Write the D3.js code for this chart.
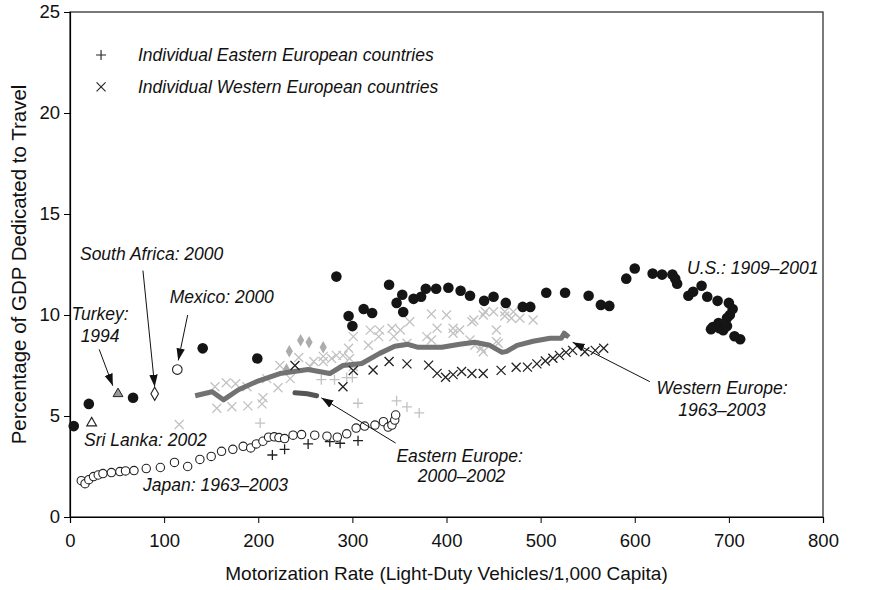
<!DOCTYPE html>
<html>
<head>
<meta charset="utf-8">
<script src="https://cdn.jsdelivr.net/npm/d3@7"></script>
<style>
  body { margin: 0; background: #fff; }
  text { font-family: "Liberation Sans", Arial, sans-serif; fill: #111; }
  .note { font-style: italic; font-size: 17.5px; }
  .tick text { font-size: 18.5px; fill: #111; }
  .label { font-size: 19px; }
  .label.ytitle { font-size: 20.5px; }
</style>
</head>
<body>
<div class="chart"></div>
<script>
// U.S. 1909-2001 (filled dots)
var usData = [[4,4.5],[20,5.6],[67,5.9],[141,8.35],[199,7.85],[283,11.9],[296,9.95],[300,9.45],
  [312,10.3],[321,10.1],[339,11.5],[347,10.6],[353,11.0],[354,10.15],[365,10.8],[373,10.9],
  [378,11.3],[389,11.3],[402,11.35],[415,11.2],[425,10.95],[440,10.7],[450,10.9],[463,10.6],
  [481,10.4],[489,10.4],[506,11.1],[526,11.1],[551,10.95],[564,10.5],[573,10.45],[591,11.8],
  [600,12.3],[619,12.05],[629,12.0],[640,12.0],[643,11.8],[645,11.55],[657,10.95],[662,11.15],
  [671,11.45],[677,10.9],[688,10.7],[700,10.6],[704,10.3],[701,10.0],[698,9.85],[683,9.4],
  [681,9.3],[689,9.6],[690,9.35],[696,9.4],[694,9.25],[698,9.45],[706,8.95],[712,8.8]];

// Japan 1963-2003 (open circles)
var japanData = [[12,1.8],[16,1.65],[20,1.85],[25,2.0],[30,2.08],[35,2.15],[44,2.2],[53,2.25],
  [59,2.28],[68,2.3],[81,2.4],[96,2.45],[111,2.7],[125,2.5],[138,2.85],[150,3.0],[161,3.25],
  [173,3.35],[184,3.5],[192,3.42],[198,3.62],[205,3.75],[211,3.95],[217,3.97],[222,3.93],
  [228,3.88],[237,4.05],[246,4.08],[260,4.05],[273,4.0],[284,3.95],[294,4.12],[304,4.4],
  [313,4.5],[324,4.55],[333,4.72],[338,4.45],[342,4.55],[345,4.8],[346,5.05]];

// Western Europe average 1963-2003 (thick line)
var westEuLine = [[133,6.0],[151,6.2],[163,5.8],[179,6.3],[198,6.7],[223,7.1],[253,7.3],[276,7.1],
  [290,7.5],[310,7.6],[329,8.1],[345,8.45],[359,8.55],[370,8.4],[395,8.4],[414,8.55],[430,8.65],
  [446,8.5],[459,8.15],[464,8.2],[475,8.5],[492,8.7],[510,8.85],[522,8.85],[525,9.1],[530,8.9]];

// Eastern Europe average 2000-2002
var eastEuLine = [[239,6.15],[252,6.1],[262,6.0]];

// individual Eastern European countries (+)
var eastDark = [[215,3.07],[228,3.35],[253,3.62],[276,3.73],[287,3.65],[306,3.78]];
var eastLight = [[202,4.65],[267,6.8],[281,6.8],[294,6.9],[300,6.9],[306,5.63],[347,5.75],
  [358,5.45],[371,5.15]];

// individual Western European countries (x)
var westDark = [[239,7.5],[290,6.45],[301,7.25],[322,7.28],[339,7.7],[358,7.58],[381,7.52],
  [390,7.11],[399,6.92],[407,7.05],[416,7.2],[427,7.1],[439,7.1],[458,7.26],[474,7.41],
  [486,7.42],[496,7.58],[505,7.72],[513,7.86],[520,8.0],[527,8.15],[534,8.25],[547,8.18],
  [558,8.25],[567,8.35]];
var westLight = [[116,4.58],[154,6.45],[156,5.38],[166,6.65],[172,5.46],[176,6.6],[188,6.45],
  [189,5.5],[204,5.6],[205,5.9],[209,6.85],[221,6.4],[223,7.5],[234,6.85],[243,7.9],[255,7.45],
  [259,7.7],[269,7.7],[269,7.95],[278,7.85],[283,8.0],[290,8.0],[296,8.35],[297,7.85],[301,7.45],
  [301,8.93],[317,8.5],[319,9.25],[328,8.93],[329,9.25],[342,9.34],[344,8.93],[351,9.26],
  [358,8.6],[361,9.67],[379,8.93],[384,10.05],[384,8.76],[390,9.34],[400,10.0],[407,9.34],
  [407,9.1],[414,9.26],[425,8.76],[427,9.67],[429,9.75],[430,8.5],[437,8.35],[439,10.0],
  [441,10.16],[450,10.16],[453,9.26],[453,8.68],[455,8.6],[462,9.95],[462,10.16],[469,9.84],
  [471,10.16],[478,9.84],[492,9.75],[439,8.18]];

// other countries
var greyDiamonds = [[230,7.3],[233,8.2],[245,8.75],[254,8.65],[269,8.4]];
var turkey = [51, 6.1];
var sriLanka = [23, 4.65];
var southAfrica = [90, 6.1];
var mexico = [114, 7.3];

var xTicks = [0,100,200,300,400,500,600,700,800];
var yTicks = [0,5,10,15,20,25];

// dimensions
var margin = {top: 12, right: 50, bottom: 73, left: 70};
var width = 873 - margin.left - margin.right;
var height = 590 - margin.top - margin.bottom;

var x = d3.scaleLinear().domain([0, 800]).range([0, width]);
var y = d3.scaleLinear().domain([0, 25]).range([height, 0]);

var svg = d3.select(".chart")
  .append("svg")
  .attr("width", 873)
  .attr("height", 590);

svg.append("defs").append("marker")
  .attr("id", "arrow")
  .attr("viewBox", "0 0 10 10")
  .attr("refX", 10)
  .attr("refY", 5)
  .attr("markerWidth", 12)
  .attr("markerHeight", 12)
  .attr("markerUnits", "userSpaceOnUse")
  .attr("orient", "auto")
  .append("path")
  .attr("d", "M0,1.5L10,5L0,8.5Z")
  .attr("fill", "#111");

var chart = svg.append("g")
  .attr("transform", "translate(" + margin.left + "," + margin.top + ")");

// frame
chart.append("rect")
  .attr("width", width)
  .attr("height", height)
  .attr("fill", "none")
  .attr("stroke", "#222")
  .attr("stroke-width", 1.2);

// axes
chart.append("g")
  .attr("transform", "translate(0," + height + ")")
  .call(d3.axisBottom(x).tickValues(xTicks).tickSize(6).tickPadding(11))
  .call(function(g) { g.select(".domain").attr("stroke-width", 1.2); });
chart.append("g")
  .call(d3.axisLeft(y).tickValues(yTicks).tickSize(6).tickPadding(4))
  .call(function(g) { g.select(".domain").attr("stroke-width", 1.2); });

// axis titles
chart.append("text")
  .attr("class", "label")
  .attr("text-anchor", "middle")
  .attr("x", width / 2)
  .attr("y", height + 63)
  .text("Motorization Rate (Light-Duty Vehicles/1,000 Capita)");
chart.append("text")
  .attr("class", "label ytitle")
  .attr("text-anchor", "middle")
  .attr("transform", "rotate(-90)")
  .attr("x", -height / 2)
  .attr("y", -44)
  .text("Percentage of GDP Dedicated to Travel");

// marker paths
var plusPath = "M-5,0H5M0,-5V5";
var timesPath = "M-4.5,-4.5L4.5,4.5M-4.5,4.5L4.5,-4.5";

function drawPaths(data, path, color) {
  chart.append("g").selectAll("path")
    .data(data)
    .enter()
    .append("path")
    .attr("d", path)
    .attr("transform", function(d) { return "translate(" + x(d[0]) + "," + y(d[1]) + ")"; })
    .attr("fill", "none")
    .attr("stroke", color)
    .attr("stroke-width", 1.3);
}

drawPaths(westLight, timesPath, "#c2c2c2");
drawPaths(eastLight, plusPath, "#c2c2c2");

chart.append("g").selectAll("path")
  .data(greyDiamonds)
  .enter()
  .append("path")
  .attr("d", d3.symbol().type(d3.symbolDiamond).size(45))
  .attr("transform", function(d) { return "translate(" + x(d[0]) + "," + y(d[1]) + ")"; })
  .attr("fill", "#acacac");

var line = d3.line()
  .x(function(d) { return x(d[0]); })
  .y(function(d) { return y(d[1]); });

chart.append("path")
  .datum(westEuLine)
  .attr("d", line)
  .attr("fill", "none")
  .attr("stroke", "#727272")
  .attr("stroke-width", 5)
  .attr("stroke-linejoin", "round");
chart.append("path")
  .datum(eastEuLine)
  .attr("d", line)
  .attr("fill", "none")
  .attr("stroke", "#555")
  .attr("stroke-width", 5)
  .attr("stroke-linecap", "round");

drawPaths(westDark, timesPath, "#222");
drawPaths(eastDark, plusPath, "#222");

// Japan
chart.append("g").selectAll("circle")
  .data(japanData)
  .enter()
  .append("circle")
  .attr("cx", function(d) { return x(d[0]); })
  .attr("cy", function(d) { return y(d[1]); })
  .attr("r", 4.2)
  .attr("fill", "#fff")
  .attr("stroke", "#222")
  .attr("stroke-width", 1.1);

// U.S.
chart.append("g").selectAll("circle")
  .data(usData)
  .enter()
  .append("circle")
  .attr("cx", function(d) { return x(d[0]); })
  .attr("cy", function(d) { return y(d[1]); })
  .attr("r", 5.3)
  .attr("fill", "#151515");

// single countries
var tri = d3.symbol().type(d3.symbolTriangle).size(42);
chart.append("path").attr("d", tri)
  .attr("transform", "translate(" + x(turkey[0]) + "," + y(turkey[1]) + ")")
  .attr("fill", "#9a9a9a").attr("stroke", "#222").attr("stroke-width", 1);
chart.append("path").attr("d", tri)
  .attr("transform", "translate(" + x(sriLanka[0]) + "," + y(sriLanka[1]) + ")")
  .attr("fill", "#fff").attr("stroke", "#222").attr("stroke-width", 1.1);
chart.append("path").attr("d", d3.symbol().type(d3.symbolDiamond).size(50))
  .attr("transform", "translate(" + x(southAfrica[0]) + "," + y(southAfrica[1]) + ")")
  .attr("fill", "#fff").attr("stroke", "#222").attr("stroke-width", 1.1);
chart.append("circle")
  .attr("cx", x(mexico[0])).attr("cy", y(mexico[1])).attr("r", 4.8)
  .attr("fill", "#fff").attr("stroke", "#222").attr("stroke-width", 1.1);

// annotation arrows [x1, y1, x2, y2] in data units
var arrows = [[77.5,12.2,90,6.45],[125,10.0,115,7.75],[31,8.3,45.5,6.5],
  [346,3.66,267,5.9],[616,6.7,534,8.65]];
chart.append("g").selectAll("line")
  .data(arrows)
  .enter()
  .append("line")
  .attr("x1", function(d) { return x(d[0]); })
  .attr("y1", function(d) { return y(d[1]); })
  .attr("x2", function(d) { return x(d[2]); })
  .attr("y2", function(d) { return y(d[3]); })
  .attr("stroke", "#111")
  .attr("stroke-width", 1)
  .attr("marker-end", "url(#arrow)");

// annotation labels [text, x, y, anchor]
var notes = [["South Africa: 2000", 10.6, 12.72, "start"],
  ["Mexico: 2000", 106, 10.6, "start"],
  ["Turkey:", 32, 9.75, "middle"],
  ["1994", 32, 8.66, "middle"],
  ["Sri Lanka: 2002", 15, 3.51, "start"],
  ["Japan: 1963\u20132003", 77.6, 1.29, "start"],
  ["Eastern Europe:", 414, 2.72, "middle"],
  ["2000\u20132002", 416, 1.73, "middle"],
  ["Western Europe:", 692.7, 6.09, "middle"],
  ["1963\u20132003", 692.7, 5.0, "middle"],
  ["U.S.: 1909\u20132001", 655.6, 12.03, "start"],
  ["Individual Eastern European countries", 72.2, 22.57, "start"],
  ["Individual Western European countries", 72.2, 20.99, "start"]];
chart.append("g").selectAll("text")
  .data(notes)
  .enter()
  .append("text")
  .attr("class", "note")
  .attr("x", function(d) { return x(d[1]); })
  .attr("y", function(d) { return y(d[2]); })
  .attr("text-anchor", function(d) { return d[3]; })
  .text(function(d) { return d[0]; });

// legend symbols
var legendSymbols = [[plusPath, 33, 22.87], [timesPath, 33, 21.29]];
chart.append("g").selectAll("path")
  .data(legendSymbols)
  .enter()
  .append("path")
  .attr("d", function(d) { return d[0]; })
  .attr("transform", function(d) { return "translate(" + x(d[1]) + "," + y(d[2]) + ")"; })
  .attr("fill", "none")
  .attr("stroke", "#222")
  .attr("stroke-width", 1.1);
</script>
</body>
</html>
